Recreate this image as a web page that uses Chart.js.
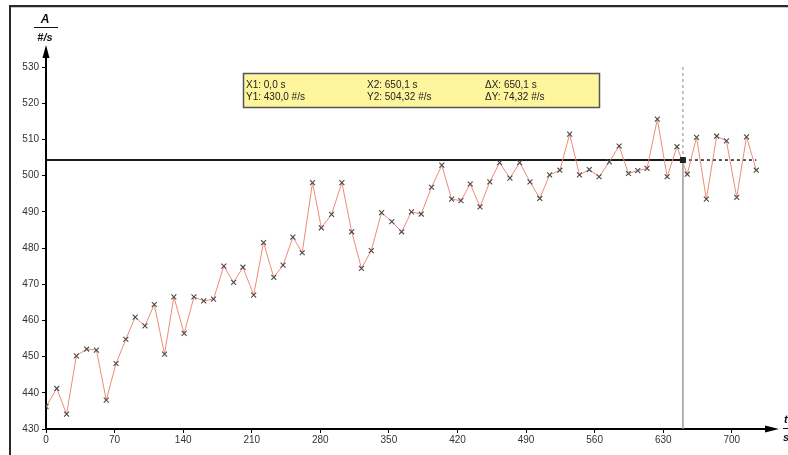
<!DOCTYPE html>
<html>
<head>
<meta charset="utf-8">
<script src="https://cdn.jsdelivr.net/npm/chart.js@4.4.1/dist/chart.umd.min.js"></script>
<style>
  html, body { margin: 0; padding: 0; background: #fff; }
  #wrap { width: 788px; height: 455px; position: relative; }
</style>
</head>
<body>
<div id="wrap"><canvas id="c" width="788" height="455"></canvas></div>
<script>
// Measurement times (s)
const times = [
  0, 11, 21, 31, 41.5, 51.5, 61.5, 71.5, 81.5, 91, 101, 110.5, 121, 130.5, 141, 151, 161, 171, 181.5,
  191.5, 201, 212, 222, 232.5, 242, 252, 261.5, 272, 281, 291.5, 302, 312, 322, 332, 342.5, 353,
  363, 373, 383, 393.5, 404, 414, 423.5, 433, 443, 453, 463, 473.5, 483.5, 494, 504, 514, 524.5, 534.5, 544.5, 554.5,
  564.5, 575, 585, 594.5, 604, 613.5, 624, 634, 644, 654.5, 664, 674, 684.5, 694.5, 705, 715, 725
];

// Count rate A (#/s)
const rates = [
  436.2, 441.2, 434.1, 450.2, 452.1, 451.8, 438.0, 448.1, 454.8, 460.9, 458.5, 464.4, 450.7, 466.5, 456.4, 466.5, 465.4, 465.9, 475.0,
  470.5, 474.7, 467.0, 481.5, 471.9, 475.3, 483.0, 478.7, 498.1, 485.6, 489.3, 498.1, 484.5, 474.4, 479.3, 489.8, 487.3,
  484.5, 490.0, 489.4, 496.8, 502.9, 493.5, 493.1, 497.7, 491.4, 498.3, 503.6, 499.3, 503.6, 498.3, 493.7, 500.2, 501.5, 511.5, 500.2, 501.7,
  499.7, 503.8, 508.2, 500.6, 501.4, 502.0, 515.6, 499.7, 508.0, 500.4, 510.6, 493.5, 510.9, 509.6, 494.0, 510.7, 501.5
];

const xTicks = [0, 70, 140, 210, 280, 350, 420, 490, 560, 630, 700];
const yTicks = [430, 440, 450, 460, 470, 480, 490, 500, 510, 520, 530];

// Cursor readings
const cursor1 = { x: 0.0, y: 430.0 };
const cursor2 = { x: 650.1, y: 504.32 };

const fmt = (v, d) => v.toFixed(d).replace('.', ',');

const points = times.map((t, i) => ({ x: t, y: rates[i] }));
const tEnd = times[times.length - 1];

const FONT = 'Liberation Sans, Arial, sans-serif';

const decor = {
  id: 'decor',
  afterDraw(chart) {
    const ctx = chart.ctx;
    const ca = chart.chartArea;
    const xs = chart.scales.x, ys = chart.scales.y;
    ctx.save();

    // window frame
    ctx.fillStyle = '#2a2a2a';
    ctx.fillRect(9, 5, 779, 2);
    ctx.fillRect(9, 5, 2, 450);
    ctx.fillStyle = '#c8c8c8';
    ctx.fillRect(11, 7, 777, 1);

    // axis arrows
    const y0 = ys.getPixelForValue(430);
    const x0 = xs.getPixelForValue(0);
    ctx.strokeStyle = '#000';
    ctx.lineWidth = 2;
    ctx.beginPath();
    ctx.moveTo(ca.right, y0);
    ctx.lineTo(768, y0);
    ctx.stroke();
    ctx.fillStyle = '#000';
    ctx.beginPath();
    ctx.moveTo(779, y0);
    ctx.lineTo(765, y0 - 3.5);
    ctx.lineTo(765, y0 + 3.5);
    ctx.closePath();
    ctx.fill();
    ctx.beginPath();
    ctx.moveTo(x0, 45);
    ctx.lineTo(x0 - 3.5, 58);
    ctx.lineTo(x0 + 3.5, 58);
    ctx.closePath();
    ctx.fill();

    // axis titles
    ctx.fillStyle = '#111';
    ctx.textAlign = 'center';
    ctx.textBaseline = 'middle';
    ctx.font = 'italic bold 12px ' + FONT;
    ctx.fillText('A', 45, 20);
    ctx.fillRect(34, 27, 24, 1);
    ctx.font = 'italic bold 11px ' + FONT;
    ctx.fillText('#/s', 45, 38);
    ctx.textAlign = 'left';
    ctx.font = 'italic bold 11px ' + FONT;
    ctx.fillText('t', 784, 420);
    ctx.fillRect(783, 428, 8, 1);
    ctx.fillText('s', 783, 438);

    // cursor readout box
    ctx.fillStyle = '#fff59c';
    ctx.fillRect(243, 73, 357, 35);
    ctx.strokeStyle = '#555';
    ctx.lineWidth = 1.5;
    ctx.strokeRect(243.5, 73.5, 356, 34);
    ctx.fillStyle = '#222';
    ctx.font = '10px ' + FONT;
    ctx.textAlign = 'left';
    ctx.textBaseline = 'middle';
    const dx = cursor2.x - cursor1.x, dy = cursor2.y - cursor1.y;
    ctx.fillText('X1: ' + fmt(cursor1.x, 1) + ' s', 246, 85);
    ctx.fillText('X2: ' + fmt(cursor2.x, 1) + ' s', 367, 85);
    ctx.fillText('\u0394X: ' + fmt(dx, 1) + ' s', 485, 85);
    ctx.fillText('Y1: ' + fmt(cursor1.y, 1) + ' #/s', 246, 97);
    ctx.fillText('Y2: ' + fmt(cursor2.y, 2) + ' #/s', 367, 97);
    ctx.fillText('\u0394Y: ' + fmt(dy, 2) + ' #/s', 485, 97);

    // cursor intersection marker
    const cx = xs.getPixelForValue(cursor2.x), cy = ys.getPixelForValue(cursor2.y);
    ctx.fillStyle = '#222';
    ctx.fillRect(cx - 3, cy - 3, 6, 6);

    ctx.restore();
  }
};

const tickFont = { family: FONT, size: 10 };

new Chart(document.getElementById('c'), {
  type: 'scatter',
  data: {
    datasets: [
      {
        data: points,
        showLine: true,
        borderColor: '#ec8c76',
        borderWidth: 1,
        tension: 0,
        pointStyle: 'crossRot',
        pointRadius: 3.5,
        pointBorderColor: '#4a4a4a',
        pointBorderWidth: 1.1,
        pointBackgroundColor: '#4a4a4a'
      },
      {
        data: [{ x: 0, y: cursor2.y }, { x: cursor2.x, y: cursor2.y }],
        showLine: true, borderColor: '#1a1a1a', borderWidth: 2, pointRadius: 0
      },
      {
        data: [{ x: cursor2.x, y: cursor2.y }, { x: tEnd, y: cursor2.y }],
        showLine: true, borderColor: '#1a1a1a', borderWidth: 1.5, borderDash: [3, 3], pointRadius: 0
      },
      {
        data: [{ x: cursor2.x, y: 430 }, { x: cursor2.x, y: cursor2.y }],
        showLine: true, borderColor: '#9a9a9a', borderWidth: 1.5, pointRadius: 0
      },
      {
        data: [{ x: cursor2.x, y: cursor2.y }, { x: cursor2.x, y: 530 }],
        showLine: true, borderColor: '#8a8a8a', borderWidth: 1, borderDash: [3, 3], pointRadius: 0
      }
    ]
  },
  options: {
    responsive: false,
    animation: false,
    devicePixelRatio: 1,
    layout: { padding: { top: 49, right: 17, bottom: 0, left: 0 } },
    plugins: { legend: { display: false }, tooltip: { enabled: false } },
    scales: {
      x: {
        type: 'linear',
        min: 0,
        max: 740,
        afterBuildTicks: s => { s.ticks = xTicks.map(v => ({ value: v })); },
        afterFit: s => { s.height = 26; },
        grid: { display: true, drawOnChartArea: false, drawTicks: true, tickLength: 4, color: '#000', lineWidth: 1 },
        border: { display: true, color: '#000', width: 2 },
        ticks: { font: tickFont, color: '#333', padding: 1, maxRotation: 0, autoSkip: false }
      },
      y: {
        type: 'linear',
        min: 430,
        max: 535,
        afterBuildTicks: s => { s.ticks = yTicks.map(v => ({ value: v })); },
        afterFit: s => { s.width = 46; },
        grid: { display: true, drawOnChartArea: false, drawTicks: true, tickLength: 4, color: '#000', lineWidth: 1 },
        border: { display: true, color: '#000', width: 2 },
        ticks: { font: tickFont, color: '#333', padding: 3, autoSkip: false }
      }
    }
  },
  plugins: [decor]
});
</script>
</body>
</html>
